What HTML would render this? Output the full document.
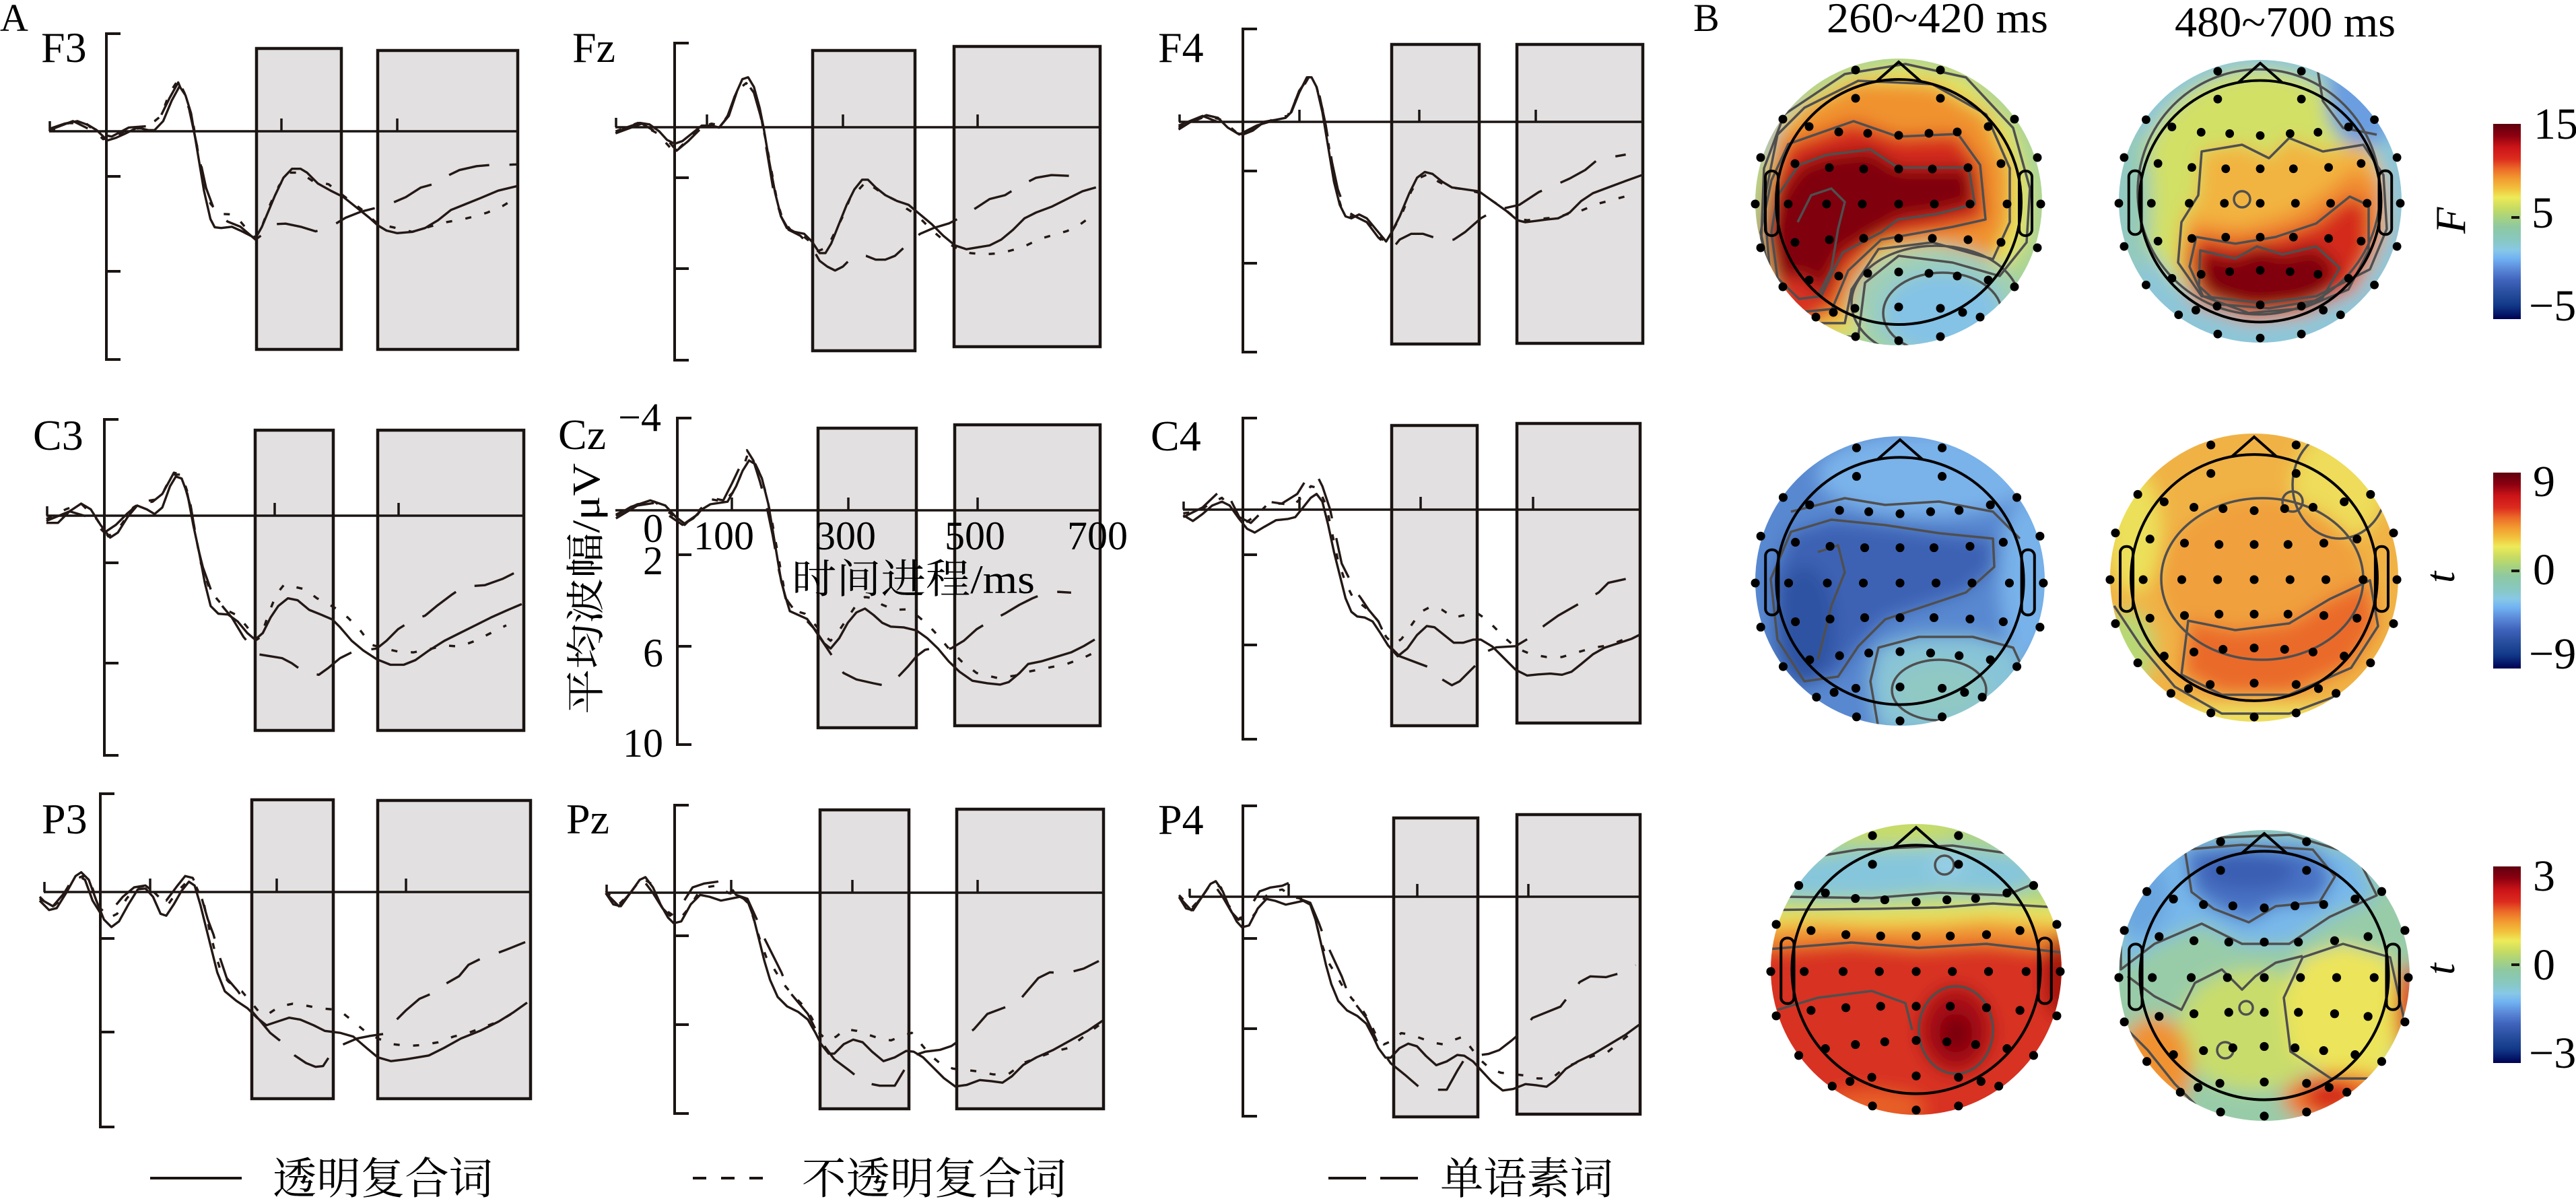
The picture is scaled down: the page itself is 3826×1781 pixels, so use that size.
<!DOCTYPE html>
<html><head><meta charset="utf-8">
<style>
html,body{margin:0;padding:0;background:#fff;}
svg{display:block;}
.ax{fill:none;stroke:#1a1412;stroke-width:4;}
.zl{fill:none;stroke:#1a1412;stroke-width:3.5;}
.bx{fill:#e2e0e1;stroke:#1a1412;stroke-width:4.5;}
.cv{fill:none;stroke:#231815;stroke-width:3.4;stroke-linejoin:round;}
.dt{stroke-dasharray:9 20;}
.ld{stroke-dasharray:62 30;}
.ct{fill:none;stroke:#4f4f4f;stroke-width:3.5;stroke-linejoin:round;}
.hd{fill:none;stroke:#000;stroke-width:4;}
text{font-family:"Liberation Serif","Noto Serif CJK SC",serif;fill:#000;}
.cjk{font-family:"Liberation Serif","Noto Serif CJK SC","Noto Sans CJK SC",serif;}
</style></head>
<body>
<svg width="3826" height="1781" viewBox="0 0 3826 1781" xmlns="http://www.w3.org/2000/svg" xmlns:xlink="http://www.w3.org/1999/xlink">
<defs>
<linearGradient id="cmap" x1="0" y1="0" x2="0" y2="1">
<stop offset="0" stop-color="#5e000e"/><stop offset="0.06" stop-color="#8c0010"/><stop offset="0.12" stop-color="#cc1418"/>
<stop offset="0.18" stop-color="#dc2c1e"/><stop offset="0.23" stop-color="#ec6a28"/><stop offset="0.28" stop-color="#f29a30"/>
<stop offset="0.33" stop-color="#f2c03c"/><stop offset="0.377" stop-color="#eeea58"/><stop offset="0.43" stop-color="#c8dc62"/>
<stop offset="0.48" stop-color="#a6d280"/><stop offset="0.53" stop-color="#8ec8a2"/><stop offset="0.60" stop-color="#88c8c4"/>
<stop offset="0.645" stop-color="#88c8e6"/><stop offset="0.69" stop-color="#70b2f2"/><stop offset="0.745" stop-color="#5a88d8"/>
<stop offset="0.80" stop-color="#4064bc"/><stop offset="0.87" stop-color="#264c9c"/><stop offset="0.93" stop-color="#123888"/>
<stop offset="0.97" stop-color="#061a6c"/><stop offset="1" stop-color="#000050"/>
</linearGradient>
<filter id="bl" x="-10%" y="-10%" width="120%" height="120%"><feGaussianBlur stdDeviation="13"/></filter>
<clipPath id="cp1"><circle cx="2820" cy="300" r="213"/></clipPath>
<clipPath id="cp2"><circle cx="3357" cy="299" r="210"/></clipPath>
<clipPath id="cp3"><circle cx="2822" cy="863" r="215"/></clipPath>
<clipPath id="cp4"><circle cx="3348" cy="858" r="214"/></clipPath>
<clipPath id="cp5"><circle cx="2846" cy="1440" r="216"/></clipPath>
<clipPath id="cp6"><circle cx="3363" cy="1449" r="216"/></clipPath>

<path id="p1a" d="M2650,170 2740,110 2830,95 2920,115 2990,190 3015,280 3010,360 2970,410 2900,390 2820,380 2770,420 2760,500 2700,500 2640,470 2615,380 2620,250Z"/>
<path id="p1b" d="M2680,160 2760,120 2870,125 2950,170 2985,250 2985,330 2960,385 2870,360 2790,370 2750,430 2740,480 2690,480 2630,420 2620,300 2640,200Z"/>
<path id="p1c" d="M2656,214 2753,180 2819,203 2908,199 2941,245 2949,326 2900,337 2794,356 2745,402 2721,459 2680,463 2631,421 2615,345 2631,268Z"/>
<path id="p1d" d="M2672,245 2713,230 2778,222 2819,249 2924,249 2933,303 2876,318 2819,326 2794,345 2737,375 2721,406 2705,440 2672,444 2640,413 2631,345 2640,291Z"/>
<path id="p2b" d="M3270,225 3330,215 3370,235 3400,205 3450,225 3510,215 3540,260 3545,340 3520,400 3440,440 3360,450 3270,440 3235,390 3240,330 3265,290Z"/>
<path id="p2c" d="M3255,330 3330,338 3400,318 3450,288 3500,248 3535,280 3535,360 3500,430 3420,470 3340,478 3260,452 3238,390Z"/>
<path id="p2d" d="M3262,352 3320,362 3380,352 3440,332 3490,292 3518,305 3518,372 3488,430 3420,458 3340,465 3272,440 3252,396Z"/>
<path id="p2e" d="M3268,372 3320,384 3352,366 3390,378 3440,366 3475,398 3448,445 3370,458 3296,452 3266,425Z"/>
<path id="p3c" d="M2660,790 2720,772 2800,780 2880,792 2960,800 2962,842 2920,880 2860,900 2800,920 2760,960 2730,1005 2680,1012 2640,950 2630,860Z"/>
<path id="p3e" d="M2790,962 2850,946 2930,946 2990,962 3012,1010 2960,1082 2850,1092 2790,1082 2778,1012Z"/>
<path id="p4d" d="M3250,922 3320,936 3400,926 3460,890 3520,862 3532,930 3492,992 3400,1032 3300,1032 3240,1002Z"/>
<path id="p5a" d="M2600,1190 3090,1190 3090,1418 2950,1402 2850,1408 2750,1400 2600,1412Z"/>
<path id="p5b" d="M2600,1190 3090,1190 3090,1378 2950,1366 2880,1372 2780,1374 2700,1370 2600,1378Z"/>
<path id="p5c" d="M2600,1190 3090,1190 3090,1350 2960,1342 2880,1348 2780,1350 2600,1352Z"/>
<path id="p5d" d="M2640,1282 2760,1262 2900,1256 3000,1270 3050,1300 2980,1330 2880,1326 2780,1334 2650,1332Z"/>
<path id="p6a" d="M3150,1282 3250,1246 3400,1240 3500,1270 3530,1330 3460,1362 3400,1402 3330,1402 3270,1372 3200,1402 3150,1440Z"/>
<path id="p6b" d="M3245,1262 3330,1255 3435,1262 3468,1302 3445,1340 3380,1346 3340,1370 3288,1350 3255,1325Z"/>
<path id="p6d" d="M3420,1422 3480,1402 3550,1422 3572,1520 3542,1602 3462,1602 3402,1562 3392,1482Z"/>

<g id="head" class="hd"><circle cx="0" cy="0" r="182"/><path d="M-33,-179 L0,-208 L33,-179"/><rect x="-198" y="-46" width="19" height="96" rx="9"/><rect x="179" y="-46" width="19" height="96" rx="9"/></g>
<g id="dots" fill="#000">
<circle cx="-64" cy="-196" r="6.5"/><circle cx="62" cy="-196" r="6.5"/><circle cx="-64" cy="-154" r="6.5"/><circle cx="62" cy="-154" r="6.5"/>
<circle cx="-172" cy="-123" r="6.5"/><circle cx="172" cy="-123" r="6.5"/>
<circle cx="-133" cy="-112" r="6.5"/><circle cx="-89" cy="-104" r="6.5"/><circle cx="-46" cy="-102" r="6.5"/><circle cx="0" cy="-99" r="6.5"/><circle cx="45" cy="-102" r="6.5"/><circle cx="87" cy="-104" r="6.5"/><circle cx="133" cy="-112" r="6.5"/>
<circle cx="-205" cy="-66" r="6.5"/><circle cx="206" cy="-66" r="6.5"/>
<circle cx="-154" cy="-57" r="6.5"/><circle cx="-103" cy="-51" r="6.5"/><circle cx="-52" cy="-49" r="6.5"/><circle cx="0" cy="-49" r="6.5"/><circle cx="50" cy="-49" r="6.5"/><circle cx="103" cy="-51" r="6.5"/><circle cx="152" cy="-57" r="6.5"/>
<circle cx="-213" cy="3" r="6.5"/><circle cx="-164" cy="3" r="6.5"/><circle cx="-107" cy="3" r="6.5"/><circle cx="-54" cy="3" r="6.5"/><circle cx="0" cy="3" r="6.5"/><circle cx="53" cy="3" r="6.5"/><circle cx="106" cy="3" r="6.5"/><circle cx="161" cy="3" r="6.5"/><circle cx="211" cy="3" r="6.5"/>
<circle cx="-154" cy="60" r="6.5"/><circle cx="-103" cy="56" r="6.5"/><circle cx="-52" cy="54" r="6.5"/><circle cx="0" cy="54" r="6.5"/><circle cx="50" cy="54" r="6.5"/><circle cx="103" cy="56" r="6.5"/><circle cx="152" cy="60" r="6.5"/>
<circle cx="-205" cy="68" r="6.5"/><circle cx="206" cy="68" r="6.5"/>
<circle cx="-133" cy="116" r="6.5"/><circle cx="-89" cy="110" r="6.5"/><circle cx="-46" cy="106" r="6.5"/><circle cx="0" cy="104" r="6.5"/><circle cx="45" cy="106" r="6.5"/><circle cx="87" cy="110" r="6.5"/><circle cx="133" cy="116" r="6.5"/>
<circle cx="-172" cy="126" r="6.5"/><circle cx="172" cy="126" r="6.5"/>
<circle cx="-123" cy="171" r="6.5"/><circle cx="-97" cy="164" r="6.5"/><circle cx="-65" cy="158" r="6.5"/><circle cx="0" cy="156" r="6.5"/><circle cx="62" cy="158" r="6.5"/><circle cx="95" cy="164" r="6.5"/><circle cx="121" cy="171" r="6.5"/>
<circle cx="-64" cy="200" r="6.5"/><circle cx="0" cy="206" r="6.5"/><circle cx="62" cy="200" r="6.5"/>
</g>

<g id="pzc">
<path class="cv" vector-effect="non-scaling-stroke" d="M35,760 55,790 75,795 100,760 125,725 140,718 160,745 180,790 200,825 215,840 235,835 260,790 285,765 310,770 340,780 365,775 390,770 410,780 425,820 440,880 455,940 470,990 490,1035 515,1060 545,1075 570,1095 590,1130 605,1160 625,1185 640,1185 665,1160 690,1148 715,1155 740,1180 770,1205 800,1195 830,1178 850,1180 875,1195 900,1220 930,1250 960,1272 990,1268 1025,1255 1055,1258 1085,1262 1110,1245 1140,1215 1175,1195 1220,1175 1265,1150 1310,1125 1350,1098"/>
<path class="cv dt" vector-effect="non-scaling-stroke" d="M35,755 70,790 100,760 130,720 155,735 175,780 200,810 230,830 255,800 280,760 300,745 330,740 360,760 390,765 415,790 430,840 445,890 460,930 480,960 505,1000 530,1030 560,1060 580,1090 600,1130 620,1150 645,1140 670,1120 700,1125 730,1135 760,1145 790,1150 815,1140 845,1130 870,1160 895,1190 925,1215 955,1225 985,1228 1020,1232 1060,1240 1100,1240 1140,1210 1180,1195 1220,1180 1260,1170 1300,1140 1340,1110"/>
<path class="cv ld" vector-effect="non-scaling-stroke" d="M35,760 70,795 100,760 130,720 160,760 185,800 205,820 230,800 265,745 295,735 330,730 350,722 380,765 410,775 435,830 455,880 480,930 500,970 520,1020 545,1050 570,1080 590,1120 610,1160 640,1200 680,1230 720,1262 760,1270 800,1270 830,1220 850,1190 880,1180 920,1175 950,1165 985,1140 1010,1120 1045,1080 1085,1065 1125,1050 1150,1020 1180,985 1210,970 1255,972 1300,960 1340,940"/>
</g>
</defs>

<text x="0" y="46" font-size="58">A</text>
<text x="2515" y="46" font-size="58">B</text>

<!-- F3 -->
<rect class="bx" x="381" y="72" width="126" height="447"/>
<rect class="bx" x="561" y="75" width="208" height="444"/>
<path class="ax" d="M179,50 H158 V534 H179 M158,262 H179 M158,403 H179"/>
<path class="zl" d="M73,195 H769 M418,195 V176 M590,195 V176 M74,195 V180"/>
<text x="61" y="92" font-size="64">F3</text>
<g transform="translate(0,0) scale(0.6378,0.3827)">
<path class="cv" vector-effect="non-scaling-stroke" d="M115,500 150,480 180,470 205,485 225,505 250,545 270,535 290,520 320,495 345,505 360,505 380,470 400,390 418,335 432,370 445,440 455,540 465,640 475,740 490,850 500,882 515,885 540,880 560,895 580,912 595,925 610,880 625,820 640,760 660,690 680,655 700,655 715,670 740,712 770,740 800,765 830,805 860,845 880,875 900,895 925,905 960,900 990,885 1020,855 1050,815 1080,795 1120,768 1160,740 1205,722"/>
<path class="cv dt" vector-effect="non-scaling-stroke" d="M115,510 160,478 200,478 240,540 270,530 300,500 330,498 360,470 375,450 395,360 415,310 435,380 450,480 462,600 478,720 490,790 510,830 540,832 560,860 585,910 598,925 612,870 630,790 650,720 675,670 700,670 730,705 765,715 800,760 840,810 880,870 915,882 960,900 1000,880 1040,862 1075,852 1105,840 1135,825 1170,800 1200,770"/>
<path class="cv ld" vector-effect="non-scaling-stroke" d="M115,505 170,470 230,520 260,530 300,495 340,490 370,465 395,380 415,320 440,420 458,560 480,730 500,820 530,860 560,880 595,930 620,900 640,870 665,868 700,880 735,898 770,880 805,845 840,822 880,805 910,790 945,765 980,728 1015,712 1045,680 1070,660 1110,645 1145,640 1175,640 1205,638"/>
</g>

<!-- Fz -->
<rect class="bx" x="1207" y="75" width="152" height="446"/>
<rect class="bx" x="1417" y="69" width="217" height="446"/>
<path class="ax" d="M1023,64 H1002 V535 H1023 M1002,264 H1023 M1002,399 H1023"/>
<path class="zl" d="M914,189 H1634 M1050,189 V170 M1252,189 V170 M1452,189 V170 M915,189 V175"/>
<text x="850" y="92" font-size="64">Fz</text>
<g transform="translate(850,0) scale(0.574)">
<path class="cv" vector-effect="non-scaling-stroke" d="M112,345 140,330 175,318 200,322 225,340 245,362 265,372 285,365 310,345 335,325 360,325 380,330 400,305 420,250 440,205 455,200 470,225 485,280 495,330 510,420 525,500 540,560 555,590 575,600 600,605 620,625 640,655 655,655 670,630 690,580 710,530 730,490 750,465 765,465 785,485 810,505 840,520 870,530 900,555 930,580 960,610 990,635 1020,645 1050,640 1080,635 1110,620 1140,595 1170,565 1200,550 1240,535 1280,515 1320,495 1355,485"/>
<path class="cv dt" vector-effect="non-scaling-stroke" d="M112,340 170,318 220,345 265,395 300,360 330,330 360,320 385,325 405,295 425,235 450,215 470,235 485,290 500,360 515,440 530,520 545,570 565,595 590,605 615,625 635,650 660,640 680,600 700,560 720,510 740,492 760,470 780,485 810,505 840,520 865,540 890,555 910,575 935,600 965,625 990,640 1030,655 1070,658 1110,655 1165,640 1210,618 1245,608 1280,598 1315,580 1350,555"/>
<path class="cv ld" vector-effect="non-scaling-stroke" d="M112,345 180,320 240,355 270,390 300,365 340,325 380,330 405,300 430,225 452,215 470,240 490,310 505,400 520,490 540,560 560,595 590,610 620,640 640,675 660,690 680,700 700,690 720,670 740,660 760,662 785,672 810,672 835,662 870,630 900,605 935,590 975,578 1010,560 1045,538 1080,515 1120,505 1160,480 1200,460 1240,453 1285,455"/>
</g>

<!-- F4 -->
<rect class="bx" x="2067" y="66" width="130" height="445"/>
<rect class="bx" x="2253" y="66" width="187" height="444"/>
<path class="ax" d="M1867,43 H1846 V523 H1867 M1846,254 H1867 M1846,391 H1867"/>
<path class="zl" d="M1751,181 H2440 M1930,181 V163 M2108,181 V163 M2281,181 V163 M1752,181 V170"/>
<text x="1720" y="92" font-size="64">F4</text>
<g transform="translate(1700,0) scale(0.574)">
<path class="cv" vector-effect="non-scaling-stroke" d="M88,335 120,315 160,298 190,305 215,330 240,345 255,348 280,338 310,315 340,310 365,305 380,290 400,240 420,200 432,200 445,225 460,290 475,380 490,470 505,530 520,560 535,565 555,555 575,565 600,595 625,625 640,600 660,560 685,500 705,460 725,445 745,450 770,470 795,485 830,490 865,495 900,520 935,545 965,570 985,575 1010,572 1040,568 1070,565 1100,550 1130,520 1160,500 1200,485 1240,470 1290,452"/>
<path class="cv dt" vector-effect="non-scaling-stroke" d="M88,330 160,300 200,310 240,345 290,330 340,305 370,300 395,250 425,200 445,225 465,300 480,400 495,490 510,540 530,560 560,560 590,590 615,620 640,600 665,555 690,495 712,460 735,450 760,470 790,485 830,490 870,500 900,520 930,540 960,565 990,570 1030,566 1070,562 1100,552 1130,545 1170,528 1200,520 1245,508"/>
<path class="cv ld" vector-effect="non-scaling-stroke" d="M88,325 150,300 200,320 245,348 290,325 340,310 375,300 400,235 425,200 450,235 468,320 485,420 500,490 520,545 545,560 575,575 605,615 640,645 660,620 690,605 720,605 750,615 775,625 800,620 830,600 870,565 905,545 935,538 970,530 1020,497 1060,480 1100,462 1140,440 1170,415 1200,408 1245,400"/>
</g>

<!-- C3 -->
<rect class="bx" x="379" y="639" width="116" height="446"/>
<rect class="bx" x="561" y="639" width="217" height="446"/>
<path class="ax" d="M176,623 H155 V1122 H176 M155,836 H176 M155,985 H176"/>
<path class="zl" d="M69,766 H778 M408,766 V747 M592,766 V747 M70,766 V752"/>
<text x="49" y="668" font-size="64">C3</text>
<g transform="translate(0,550) scale(0.574)">
<path class="cv" vector-effect="non-scaling-stroke" d="M120,395 150,395 180,365 210,345 235,360 260,400 285,433 305,420 330,380 355,350 380,360 400,372 420,355 440,300 455,275 470,280 485,320 500,400 515,470 530,550 545,610 565,630 590,632 615,650 640,680 660,697 680,680 700,640 720,610 745,590 770,595 800,620 830,632 860,645 880,665 910,700 940,725 975,748 1010,762 1045,762 1075,750 1110,725 1150,700 1190,680 1230,660 1270,640 1310,622 1350,605"/>
<path class="cv dt" vector-effect="non-scaling-stroke" d="M120,385 170,360 210,345 250,385 280,430 310,405 345,355 370,340 400,335 420,320 445,270 470,270 490,330 505,420 520,500 540,560 560,590 585,620 615,635 640,665 660,700 675,690 695,630 715,580 735,555 760,560 790,567 820,590 850,605 875,620 900,640 930,670 960,710 995,720 1030,728 1070,730 1110,722 1150,712 1190,715 1230,700 1270,680 1310,660"/>
<path class="cv ld" vector-effect="non-scaling-stroke" d="M120,390 180,365 230,380 270,420 300,400 330,370 360,345 395,340 420,320 450,265 470,270 495,360 510,450 525,510 550,580 575,610 600,640 630,690 668,735 700,740 730,745 755,758 790,783 825,788 850,770 880,745 910,730 940,725 975,720 1000,700 1030,670 1070,645 1100,635 1130,610 1170,580 1200,560 1255,556 1300,540 1340,520"/>
</g>

<!-- Cz -->
<rect class="bx" x="1215" y="636" width="146" height="445"/>
<rect class="bx" x="1418" y="631" width="216" height="447"/>
<path class="ax" d="M1027,621 H1006 V1106 H1027 M1006,824 H1027 M1006,960 H1027"/>
<path class="zl" d="M914,758 H1634 M1087,758 V739 M1260,758 V739 M1452,758 V739"/>
<text x="829" y="667" font-size="64">Cz</text>
<g transform="translate(800,550) scale(0.6378,0.3827)">
<path class="cv" vector-effect="non-scaling-stroke" d="M180,565 215,530 260,505 295,525 320,570 340,595 360,575 380,540 400,520 420,515 440,510 460,450 475,390 490,350 505,365 520,420 535,520 545,620 555,720 565,820 575,880 585,935 605,950 625,965 645,1010 665,1060 680,1080 700,1040 720,980 740,940 760,925 780,950 800,980 820,995 850,998 880,1010 905,1040 930,1080 955,1130 980,1170 1010,1205 1045,1215 1075,1220 1095,1210 1120,1175 1140,1140 1170,1130 1200,1115 1240,1095 1270,1070 1295,1045"/>
<path class="cv dt" vector-effect="non-scaling-stroke" d="M180,560 230,520 270,510 310,560 340,600 370,550 400,500 430,510 455,470 470,410 485,335 500,350 515,400 530,480 545,600 560,740 575,880 590,930 620,945 645,990 665,1030 680,1050 700,1010 720,960 740,910 760,880 780,885 800,910 830,930 855,928 880,950 905,985 930,1030 955,1080 985,1130 1020,1175 1070,1195 1110,1185 1140,1170 1170,1160 1200,1150 1230,1140 1270,1115 1295,1095"/>
<path class="cv ld" vector-effect="non-scaling-stroke" d="M180,575 230,525 270,515 300,560 335,600 370,560 400,495 430,505 450,440 470,370 485,310 500,350 515,430 530,520 545,640 560,780 575,885 595,930 615,955 640,1000 660,1050 680,1100 700,1150 710,1175 740,1200 780,1215 810,1225 840,1185 860,1150 880,1110 900,1085 930,1075 960,1080 990,1050 1020,1005 1050,975 1085,945 1120,910 1150,885 1180,865 1210,860 1240,863"/>
</g>
<text x="982" y="640" font-size="60" text-anchor="end">−4</text>
<text x="985" y="805" font-size="60" text-anchor="end">0</text>
<text x="985" y="853" font-size="60" text-anchor="end">2</text>
<text x="985" y="990" font-size="60" text-anchor="end">6</text>
<text x="985" y="1124" font-size="60" text-anchor="end">10</text>
<text x="1030" y="816" font-size="60">100</text>
<text x="1211" y="816" font-size="60">300</text>
<text x="1403" y="816" font-size="60">500</text>
<text x="1585" y="816" font-size="60">700</text>
<text class="cjk" x="1176" y="881" font-size="60" textLength="361" lengthAdjust="spacingAndGlyphs">时间进程/ms</text>
<text class="cjk" transform="translate(890,1061) rotate(-90)" font-size="58" textLength="373" lengthAdjust="spacingAndGlyphs">平均波幅/μV</text>

<!-- C4 -->
<rect class="bx" x="2067" y="632" width="127" height="446"/>
<rect class="bx" x="2253" y="629" width="183" height="445"/>
<path class="ax" d="M1867,621 H1846 V1098 H1867 M1846,824 H1867 M1846,958 H1867"/>
<path class="zl" d="M1757,757 H2436 M1930,757 V738 M2110,757 V738 M2277,757 V738 M1758,757 V745"/>
<text x="1709" y="669" font-size="64">C4</text>
<g transform="translate(1700,550) scale(0.574)">
<path class="cv" vector-effect="non-scaling-stroke" d="M100,375 125,390 150,372 175,350 200,340 220,350 245,385 265,410 285,420 310,405 340,388 370,385 390,380 410,355 430,330 445,320 460,340 475,400 490,470 505,530 520,590 535,625 550,637 570,640 590,650 610,680 630,712 655,740 680,720 705,685 730,662 750,665 775,685 800,705 825,705 850,697 870,697 900,715 930,745 960,775 990,790 1020,787 1050,785 1080,788 1105,780 1130,760 1160,735 1190,718 1230,705 1260,695 1280,685"/>
<path class="cv dt" vector-effect="non-scaling-stroke" d="M100,370 140,365 170,345 200,330 230,360 260,395 290,375 320,345 355,345 385,350 405,330 430,300 450,305 470,350 485,420 500,490 520,550 540,590 560,605 585,625 605,650 625,690 645,710 665,695 690,660 715,625 740,612 770,620 800,640 830,633 860,628 885,645 905,665 935,695 965,720 1000,735 1040,742 1080,742 1120,730 1160,718 1200,712 1245,695"/>
<path class="cv ld" vector-effect="non-scaling-stroke" d="M100,380 150,355 195,312 215,320 245,380 275,395 300,370 320,340 355,345 395,320 420,280 445,270 460,300 480,360 495,430 510,500 525,530 545,570 560,590 580,620 605,650 635,715 660,740 705,757 740,770 770,800 795,815 815,805 835,785 860,760 880,730 910,717 960,714 1000,690 1035,660 1070,635 1105,615 1140,595 1175,575 1200,550 1245,540"/>
</g>

<!-- P3 -->
<rect class="bx" x="374" y="1188" width="121" height="444"/>
<rect class="bx" x="561" y="1189" width="227" height="443"/>
<path class="ax" d="M170,1179 H149 V1674 H170 M149,1394 H170 M149,1533 H170"/>
<path class="zl" d="M65,1325 H788 M223,1325 V1305 M411,1325 V1305 M603,1325 V1305 M66,1325 V1310"/>
<text x="62" y="1238" font-size="64">P3</text>
<g transform="translate(0,900) scale(0.5612)">
<path class="cv" vector-effect="non-scaling-stroke" d="M105,780 130,805 150,800 175,760 200,715 215,705 235,725 255,780 275,830 295,850 315,835 340,790 365,750 385,748 405,770 425,815 440,820 460,790 480,755 500,730 515,740 530,790 545,850 560,910 575,970 595,1020 625,1045 655,1065 680,1090 705,1110 735,1100 765,1090 795,1095 830,1110 860,1125 900,1130 935,1140 970,1170 1000,1195 1035,1205 1075,1200 1135,1190 1175,1170 1220,1145 1270,1125 1320,1100 1360,1075 1395,1050"/>
<path class="cv dt" vector-effect="non-scaling-stroke" d="M105,770 135,800 165,775 195,725 220,715 240,735 265,800 290,825 310,815 335,775 360,745 390,740 420,770 445,790 470,755 495,730 520,745 540,790 555,860 570,920 585,970 605,995 640,1020 665,1050 690,1080 710,1080 740,1060 775,1053 810,1058 845,1065 880,1068 910,1080 935,1100 965,1125 1000,1145 1040,1160 1080,1165 1120,1162 1160,1155 1200,1140 1240,1130 1280,1115 1320,1100 1370,1070"/>
<path class="cv ld" vector-effect="non-scaling-stroke" d="M105,775 140,795 170,760 200,710 225,725 245,780 270,820 300,800 325,770 355,745 385,740 410,760 440,780 470,740 490,715 510,720 530,760 550,830 565,870 580,925 600,985 630,1020 660,1065 690,1100 715,1130 740,1150 780,1190 810,1210 835,1220 855,1218 880,1180 910,1160 945,1145 980,1138 1015,1133 1045,1100 1075,1070 1110,1040 1145,1025 1180,1000 1215,980 1240,950 1270,935 1300,925 1340,910 1390,890"/>
</g>

<!-- Pz -->
<rect class="bx" x="1218" y="1203" width="132" height="444"/>
<rect class="bx" x="1421" y="1202" width="218" height="445"/>
<path class="ax" d="M1023,1196 H1002 V1654 H1023 M1002,1390 H1023 M1002,1522 H1023"/>
<path class="zl" d="M900,1326 H1639 M1086,1326 V1307 M1266,1326 V1307 M1452,1326 V1307 M901,1326 V1314"/>
<text x="841" y="1238" font-size="64">Pz</text>
<use xlink:href="#pzc" href="#pzc" transform="translate(880,900) scale(0.5612)"/>

<!-- P4 -->
<rect class="bx" x="2070" y="1215" width="125" height="444"/>
<rect class="bx" x="2253" y="1210" width="183" height="445"/>
<path class="ax" d="M1867,1197 H1846 V1658 H1867 M1846,1394 H1867 M1846,1528 H1867"/>
<path class="zl" d="M1766,1332 H2436 M1914,1332 V1313 M2105,1332 V1313 M2270,1332 V1313 M1767,1332 V1320"/>
<text x="1720" y="1239" font-size="64">P4</text>
<use xlink:href="#pzc" href="#pzc" transform="translate(1733,906) scale(0.5197,0.5612)"/>

<!-- Legend -->
<path d="M223,1750 H359" stroke="#1a1412" stroke-width="4"/>
<text class="cjk" x="405" y="1773" font-size="65" textLength="327" lengthAdjust="spacingAndGlyphs">透明复合词</text>
<path d="M1029,1750 H1144" stroke="#1a1412" stroke-width="4" stroke-dasharray="20 22"/>
<text class="cjk" x="1191" y="1773" font-size="65" textLength="393" lengthAdjust="spacingAndGlyphs">不透明复合词</text>
<path d="M1973,1750 H2106" stroke="#1a1412" stroke-width="4" stroke-dasharray="56 21"/>
<text class="cjk" x="2139" y="1773" font-size="65" textLength="257" lengthAdjust="spacingAndGlyphs">单语素词</text>

<!-- Topomaps -->
<text x="2713" y="48" font-size="64" textLength="329" lengthAdjust="spacingAndGlyphs">260~420 ms</text>
<text x="3230" y="54" font-size="64" textLength="328" lengthAdjust="spacingAndGlyphs">480~700 ms</text>

<!-- Map 1 -->
<g clip-path="url(#cp1)">
<g filter="url(#bl)">
<rect x="2560" y="40" width="520" height="520" fill="#a8d496"/>
<ellipse cx="2640" cy="190" rx="40" ry="70" fill="#94cccc"/>
<use href="#p1a" xlink:href="#p1a" fill="#e6e45c"/>
<use href="#p1b" xlink:href="#p1b" fill="#f0922f"/>
<ellipse cx="2875" cy="450" rx="125" ry="85" fill="#9ecfb8"/>
<ellipse cx="2885" cy="465" rx="88" ry="60" fill="#84c2e6"/>
<use href="#p1c" xlink:href="#p1c" fill="#d42a1e"/>
<use href="#p1d" xlink:href="#p1d" fill="#800008"/>
<ellipse cx="2668" cy="455" rx="35" ry="45" fill="#d83020"/>
</g>
<use href="#p1a" xlink:href="#p1a" class="ct"/>
<use href="#p1b" xlink:href="#p1b" class="ct"/>
<use href="#p1c" xlink:href="#p1c" class="ct"/>
<use href="#p1d" xlink:href="#p1d" class="ct"/>
<ellipse class="ct" cx="2875" cy="450" rx="125" ry="85"/>
<ellipse class="ct" cx="2885" cy="465" rx="88" ry="60"/>
<path class="ct" d="M2670,330 2690,290 2720,280 2740,300 2730,340 2720,400 2700,440"/>
<path class="ct" d="M2620,190 2660,130 2720,95"/>
</g>
<use href="#head" xlink:href="#head" transform="translate(2820,300)"/>
<use href="#dots" xlink:href="#dots" transform="translate(2820,300)"/>

<!-- Map 2 -->
<g clip-path="url(#cp2)">
<g filter="url(#bl)">
<rect x="3100" y="40" width="520" height="520" fill="#8cc6d8"/>
<ellipse cx="3355" cy="285" rx="180" ry="182" fill="#d2e066"/>
<ellipse cx="3510" cy="145" rx="55" ry="75" fill="#6a9ee0"/>
<ellipse cx="3170" cy="300" rx="25" ry="110" fill="#94cab8"/>
<use href="#p2b" xlink:href="#p2b" fill="#f2b440"/>
<use href="#p2c" xlink:href="#p2c" fill="#f08a30"/>
<use href="#p2d" xlink:href="#p2d" fill="#d42a1e"/>
<use href="#p2e" xlink:href="#p2e" fill="#800008"/>
</g>
<ellipse class="ct" cx="3355" cy="285" rx="180" ry="182"/>
<use href="#p2b" xlink:href="#p2b" class="ct"/>
<use href="#p2d" xlink:href="#p2d" class="ct"/>
<use href="#p2e" xlink:href="#p2e" class="ct"/>
<path class="ct" d="M3440,90 3450,150 3480,190 3530,200"/>
<circle class="ct" cx="3330" cy="296" r="12"/>
</g>
<use href="#head" xlink:href="#head" transform="translate(3357,299) scale(0.986)"/>
<use href="#dots" xlink:href="#dots" transform="translate(3357,299) scale(0.986)"/>

<!-- Map 3 -->
<g clip-path="url(#cp3)">
<g filter="url(#bl)">
<rect x="2560" y="600" width="520" height="520" fill="#5888d0"/>
<ellipse cx="2860" cy="705" rx="160" ry="62" fill="#7ab2ea"/>
<ellipse cx="3012" cy="860" rx="42" ry="120" fill="#78b2ea"/>
<use href="#p3c" xlink:href="#p3c" fill="#3d62b4"/>
<ellipse cx="2680" cy="930" rx="45" ry="90" fill="#2d52a2"/>
<use href="#p3e" xlink:href="#p3e" fill="#88c4d8"/>
<ellipse cx="2880" cy="1025" rx="70" ry="45" fill="#90c8c4"/>
</g>
<use href="#p3c" xlink:href="#p3c" class="ct"/>
<use href="#p3e" xlink:href="#p3e" class="ct"/>
<ellipse class="ct" cx="2880" cy="1025" rx="70" ry="45"/>
<path class="ct" d="M2660,760 2740,740 2800,750 2880,745 2960,760 3000,800"/>
<path class="ct" d="M2700,820 2730,810 2740,850 2720,900 2700,980"/>
</g>
<use href="#head" xlink:href="#head" transform="translate(2822,863) scale(1.009)"/>
<use href="#dots" xlink:href="#dots" transform="translate(2822,863) scale(1.009)"/>

<!-- Map 4 -->
<g clip-path="url(#cp4)">
<g filter="url(#bl)">
<rect x="3090" y="600" width="520" height="520" fill="#f0b244"/>
<ellipse cx="3475" cy="720" rx="70" ry="80" fill="#eedc5a"/>
<ellipse cx="3170" cy="790" rx="40" ry="90" fill="#ece05a"/>
<ellipse cx="3345" cy="1068" rx="170" ry="22" fill="#ece060"/>
<ellipse cx="3160" cy="965" rx="40" ry="60" fill="#b8d874"/>
<ellipse cx="3360" cy="860" rx="150" ry="120" fill="#f0a03c"/>
<use href="#p4d" xlink:href="#p4d" fill="#ea6a2a"/>
</g>
<ellipse class="ct" cx="3360" cy="860" rx="150" ry="120"/>
<use href="#p4d" xlink:href="#p4d" class="ct"/>
<ellipse class="ct" cx="3475" cy="720" rx="70" ry="80"/>
<circle class="ct" cx="3405" cy="745" r="15"/>
<path class="ct" d="M3140,900 3180,960 3230,1020 3300,1060 3400,1060 3480,1030"/>
</g>
<use href="#head" xlink:href="#head" transform="translate(3348,858) scale(1.005)"/>
<use href="#dots" xlink:href="#dots" transform="translate(3348,858) scale(1.005)"/>

<!-- Map 5 -->
<g clip-path="url(#cp5)">
<g filter="url(#bl)">
<rect x="2590" y="1180" width="520" height="520" fill="#d83020"/>
<use href="#p5a" xlink:href="#p5a" fill="#f09030"/>
<use href="#p5b" xlink:href="#p5b" fill="#ece65a"/>
<use href="#p5c" xlink:href="#p5c" fill="#b0d680"/>
<use href="#p5d" xlink:href="#p5d" fill="#86c6dc"/>
<ellipse cx="2820" cy="1232" rx="90" ry="22" fill="#c8dc68"/>
<ellipse cx="2892" cy="1285" rx="25" ry="15" fill="#9ad0e8"/>
<ellipse cx="2905" cy="1530" rx="55" ry="65" fill="#a80c12"/>
<ellipse cx="2905" cy="1535" rx="25" ry="30" fill="#7a0008"/>
<ellipse cx="3058" cy="1450" rx="22" ry="60" fill="#a00c10"/>
<ellipse cx="2780" cy="1645" rx="80" ry="25" fill="#e86028"/>
</g>
<use href="#p5a" xlink:href="#p5a" class="ct"/>
<use href="#p5c" xlink:href="#p5c" class="ct"/>
<use href="#p5d" xlink:href="#p5d" class="ct"/>
<ellipse class="ct" cx="2905" cy="1530" rx="55" ry="65"/>
<path class="ct" d="M2640,1500 2700,1482 2780,1472 2830,1490 2840,1530"/>
<circle class="ct" cx="2888" cy="1285" r="14"/>
</g>
<use href="#head" xlink:href="#head" transform="translate(2846,1440) scale(1.014)"/>
<use href="#dots" xlink:href="#dots" transform="translate(2846,1440) scale(1.014)"/>

<!-- Map 6 -->
<g clip-path="url(#cp6)">
<g filter="url(#bl)">
<rect x="3100" y="1185" width="530" height="530" fill="#98cca8"/>
<use href="#p6a" xlink:href="#p6a" fill="#78b8ea"/>
<ellipse cx="3178" cy="1330" rx="45" ry="60" fill="#6aa6e0"/>
<use href="#p6b" xlink:href="#p6b" fill="#4a72c4"/>
<ellipse cx="3340" cy="1295" rx="70" ry="28" fill="#3a5eb2"/>
<ellipse cx="3345" cy="1530" rx="110" ry="90" fill="#c8dc6c"/>
<use href="#p6d" xlink:href="#p6d" fill="#ece45a"/>
<ellipse cx="3200" cy="1585" rx="55" ry="75" fill="#f09232"/>
<ellipse cx="3480" cy="1632" rx="90" ry="40" fill="#f07a2c"/>
<ellipse cx="3462" cy="1628" rx="40" ry="25" fill="#d42a1e"/>
<ellipse cx="3578" cy="1500" rx="20" ry="70" fill="#d83020"/>
</g>
<use href="#p6a" xlink:href="#p6a" class="ct"/>
<use href="#p6b" xlink:href="#p6b" class="ct"/>
<use href="#p6d" xlink:href="#p6d" class="ct"/>
<path class="ct" d="M3160,1450 3200,1480 3240,1500 3260,1460 3300,1440 3330,1470 3350,1450 3380,1430 3420,1420"/>
<path class="ct" d="M3150,1520 3190,1560 3230,1610 3270,1650"/>
<circle class="ct" cx="3336" cy="1497" r="10"/>
<circle class="ct" cx="3305" cy="1560" r="12"/>
</g>
<use href="#head" xlink:href="#head" transform="translate(3363,1449) scale(1.014)"/>
<use href="#dots" xlink:href="#dots" transform="translate(3363,1449) scale(1.014)"/>

<!-- Colorbars -->
<rect x="3703" y="184" width="41" height="290" fill="url(#cmap)"/>
<path d="M3730,323 H3742" stroke="#1a1412" stroke-width="4"/>
<text x="3763" y="206" font-size="66">15</text>
<text x="3760" y="338" font-size="66">5</text>
<text x="3756" y="476" font-size="66">−5</text>
<text transform="translate(3661,347) rotate(-90)" font-size="64" font-style="italic">F</text>

<rect x="3703" y="702" width="41" height="291" fill="url(#cmap)"/>
<path d="M3730,848 H3742" stroke="#1a1412" stroke-width="4"/>
<text x="3762" y="737" font-size="66">9</text>
<text x="3762" y="868" font-size="66">0</text>
<text x="3756" y="993" font-size="66">−9</text>
<text transform="translate(3645,866) rotate(-90)" font-size="62" font-style="italic">t</text>

<rect x="3703" y="1287" width="41" height="292" fill="url(#cmap)"/>
<path d="M3730,1433 H3742" stroke="#1a1412" stroke-width="4"/>
<text x="3762" y="1323" font-size="66">3</text>
<text x="3762" y="1455" font-size="66">0</text>
<text x="3756" y="1586" font-size="66">−3</text>
<text transform="translate(3645,1448) rotate(-90)" font-size="62" font-style="italic">t</text>
</svg>
</body></html>
